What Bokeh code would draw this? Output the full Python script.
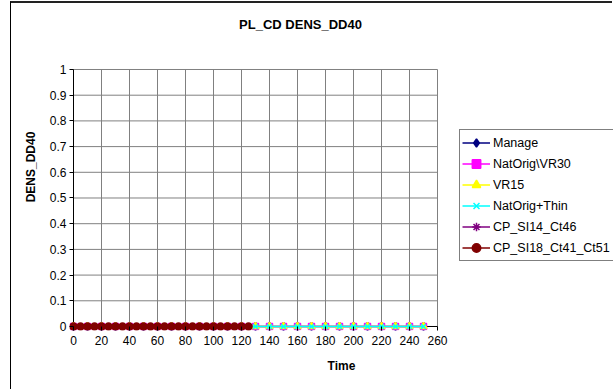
from bokeh.plotting import figure
from bokeh.embed import file_html
from bokeh.resources import INLINE
from bokeh.models import Range1d, FixedTicker, Label, Legend, LegendItem

# ---- data ----
time_main = [0, 10, 20, 30, 40, 50, 60, 70, 80, 90, 100, 110, 120, 130, 140, 150,
             160, 170, 180, 190, 200, 210, 220, 230, 240, 250]
manage = [0, 0, 0, 0, 0, 0, 0, 0, 0, 0, 0, 0, 0, 0, 0, 0, 0, 0, 0, 0, 0, 0, 0, 0, 0, 0]
natorig_vr30 = [0, 0, 0, 0, 0, 0, 0, 0, 0, 0, 0, 0, 0, 0, 0, 0, 0, 0, 0, 0, 0, 0, 0, 0, 0, 0]
vr15 = [0, 0, 0, 0, 0, 0, 0, 0, 0, 0, 0, 0, 0, 0, 0, 0, 0, 0, 0, 0, 0, 0, 0, 0, 0, 0]
natorig_thin = [0, 0, 0, 0, 0, 0, 0, 0, 0, 0, 0, 0, 0, 0, 0, 0, 0, 0, 0, 0, 0, 0, 0, 0, 0, 0]

time_cp = [0, 5, 10, 15, 20, 25, 30, 35, 40, 45, 50, 55, 60, 65, 70, 75, 80, 85, 90,
           95, 100, 105, 110, 115, 120, 125]
cp_si14 = [0, 0, 0, 0, 0, 0, 0, 0, 0, 0, 0, 0, 0, 0, 0, 0, 0, 0, 0, 0, 0, 0, 0, 0, 0, 0]
cp_si18 = [0, 0, 0, 0, 0, 0, 0, 0, 0, 0, 0, 0, 0, 0, 0, 0, 0, 0, 0, 0, 0, 0, 0, 0, 0, 0]

x_ticks = [0, 20, 40, 60, 80, 100, 120, 140, 160, 180, 200, 220, 240, 260]
y_ticks = [0, 0.1, 0.2, 0.3, 0.4, 0.5, 0.6, 0.7, 0.8, 0.9, 1]
y_tick_labels = ["0", "0.1", "0.2", "0.3", "0.4", "0.5", "0.6", "0.7", "0.8", "0.9", "1"]

FONT = "Liberation Sans"
x_lo, x_hi = x_ticks[0], x_ticks[-1]
y_lo, y_hi = y_ticks[0], y_ticks[-1]

# frame covers the whole chart area right of / above the axis labels so that
# title and legend (drawn in the frame) are not clipped
p = figure(width=602, height=388, output_backend="svg", toolbar_location=None,
           x_range=Range1d(-2.86, 385.7), y_range=Range1d(-0.0156, 1.2568),
           min_border_left=58, min_border_right=0, min_border_top=0, min_border_bottom=61)
p.styles = {"border-top": "2px solid #222222", "border-left": "1px solid #000000",
            "margin-left": "10px", "margin-top": "1px"}
p.outline_line_color = None
p.background_fill_color = "white"
p.border_fill_color = "white"
p.xgrid.visible = False
p.ygrid.visible = False

# axes
p.xaxis.ticker = FixedTicker(ticks=x_ticks)
p.yaxis.ticker = FixedTicker(ticks=y_ticks)
p.yaxis.major_label_overrides = {t: s for t, s in zip(y_ticks, y_tick_labels)}
for ax in (p.xaxis[0], p.yaxis[0]):
    ax.axis_line_color = None
    ax.major_tick_in = 4
    ax.major_tick_out = 0
    ax.major_tick_line_color = "black"
    ax.minor_tick_line_color = None
    ax.major_label_text_font = FONT
    ax.major_label_text_font_size = "12px"
    ax.major_label_text_color = "black"
    ax.axis_label_text_font = FONT
    ax.axis_label_text_font_size = "12px"
    ax.axis_label_text_font_style = "bold"
    ax.axis_label_text_color = "black"
p.xaxis.axis_label = "Time"
p.yaxis.axis_label = "DENS_DD40"
p.xaxis.major_label_standoff = 5
p.yaxis.major_label_standoff = 3
p.xaxis.axis_label_standoff = 11
p.yaxis.axis_label_standoff = 9

# grid lines limited to the plot area
p.segment(x0=x_ticks, y0=[y_lo] * len(x_ticks), x1=x_ticks, y1=[y_hi] * len(x_ticks),
          line_color="#808080", line_width=1)
p.segment(x0=[x_lo] * len(y_ticks), y0=y_ticks, x1=[x_hi] * len(y_ticks), y1=y_ticks,
          line_color="#808080", line_width=1)
# axis lines
p.segment(x0=[x_lo, x_lo], y0=[y_lo, y_lo], x1=[x_hi, x_lo], y1=[y_lo, y_hi],
          line_color="black", line_width=1)

series = [
    ("Manage", time_main, manage, "#000080", "diamond", 8),
    ("NatOrig\\VR30", time_main, natorig_vr30, "#FF00FF", "square", 6),
    ("VR15", time_main, vr15, "#FFFF00", "triangle", 7),
    ("NatOrig+Thin", time_main, natorig_thin, "#00FFFF", "x", 7),
    ("CP_SI14_Ct46", time_cp, cp_si14, "#800080", "asterisk", 7),
    ("CP_SI18_Ct41_Ct51", time_cp, cp_si18, "#800000", "circle", 7),
]
items = []
for name, xs, ys, col, mk, sz in series:
    r1 = p.line(xs, ys, line_color=col, line_width=1.5)
    r2 = p.scatter(xs, ys, marker=mk, size=sz, fill_color=col, line_color=col, line_width=1.5)
    items.append(LegendItem(label=name, renderers=[r1, r2]))

legend = Legend(items=items, location=(390, 69), margin=0, padding=2, spacing=0,
                label_height=21, glyph_height=21, glyph_width=28, label_standoff=3,
                label_width=135,
                border_line_color="black", border_line_width=1,
                background_fill_color="white", background_fill_alpha=1,
                label_text_font=FONT, label_text_font_size="12.5px", label_text_color="black")
p.add_layout(legend, "center")

p.add_layout(Label(x=231, y=306, x_units="screen", y_units="screen", text="PL_CD DENS_DD40",
                   text_align="center", text_baseline="middle", text_font=FONT,
                   text_font_size="13px", text_font_style="bold", text_color="black"))

open("out.html", "w").write(file_html(p, INLINE))
